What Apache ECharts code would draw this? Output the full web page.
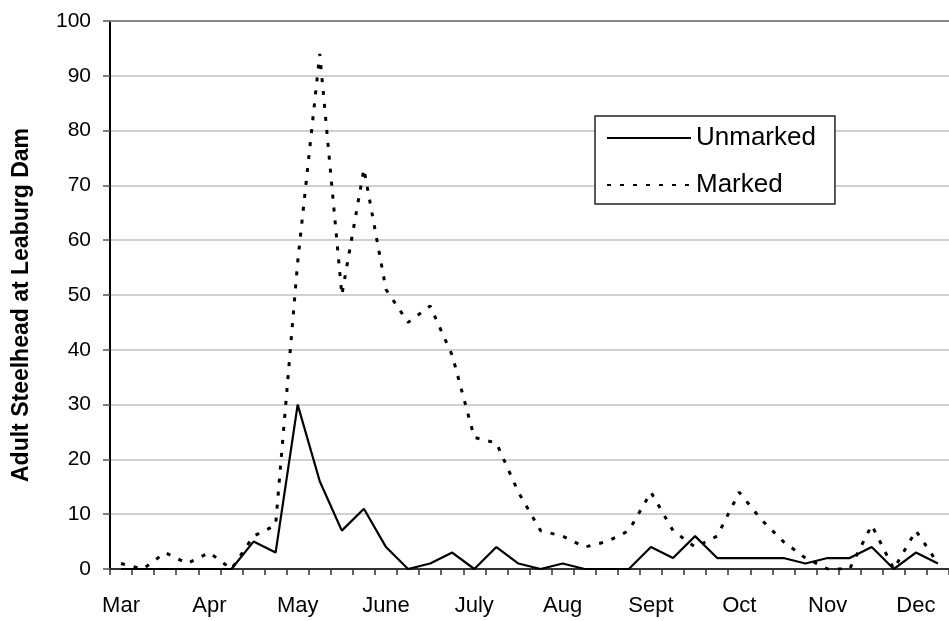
<!DOCTYPE html>
<html>
<head>
<meta charset="utf-8">
<title>Adult Steelhead at Leaburg Dam</title>
<script src="https://cdn.jsdelivr.net/npm/echarts@6/dist/echarts.min.js"></script>
<style>
  html, body { margin: 0; padding: 0; background: #fff; }
  #chart { width: 949px; height: 621px; }
</style>
</head>
<body>
<div id="chart"></div>
<script>
// weekly counts, one slot per week, month name on the first week
var weeks = [
  'Mar', '', '', '',
  'Apr', '', '', '',
  'May', '', '', '',
  'June', '', '', '',
  'July', '', '', '',
  'Aug', '', '', '',
  'Sept', '', '', '',
  'Oct', '', '', '',
  'Nov', '', '', '',
  'Dec', ''
];
var unmarked = [0, 0, 0, 0, 0, 0, 5, 3, 30, 16, 7, 11, 4, 0, 1, 3, 0, 4, 1, 0,
  1, 0, 0, 0, 4, 2, 6, 2, 2, 2, 2, 1, 2, 2, 4, 0, 3, 1];
var marked = [1, 0, 3, 1, 3, 0, 6, 8, 56, 94, 50, 73, 51, 45, 48, 39, 24, 23, 14, 7,
  6, 4, 5, 7, 14, 7, 4, 6, 14, 9, 5, 2, 0, 0, 8, 0, 7, 1];
var yTicks = [0, 10, 20, 30, 40, 50, 60, 70, 80, 90, 100];

var font = 'Liberation Sans, Arial, sans-serif';
var chartDom = document.getElementById('chart');
var myChart = echarts.init(chartDom, null, { renderer: 'canvas' });
var option;

option = {
  animation: false,
  backgroundColor: '#fff',
  grid: { left: 110, top: 21, right: -4, bottom: 52, containLabel: false },
  legend: {
    orient: 'vertical',
    left: 595,
    top: 116,
    width: 239,
    padding: [9, 19, 6, 11],
    itemWidth: 84,
    itemHeight: 14,
    itemGap: 21,
    backgroundColor: '#fff',
    borderColor: '#222',
    borderWidth: 1.5,
    // hide the marker dot, keep only the line sample
    itemStyle: { opacity: 0 },
    data: ['Unmarked', 'Marked'],
    textStyle: { fontFamily: font, fontSize: 26, color: '#000', lineHeight: 26 }
  },
  xAxis: [
    {
      type: 'category',
      data: weeks,
      boundaryGap: true,
      axisLine: { lineStyle: { color: '#333', width: 2 } },
      axisTick: { show: true, interval: 0, length: 6, lineStyle: { color: '#333', width: 1.5 } },
      axisLabel: {
        interval: 3,
        margin: 26,
        fontFamily: font,
        fontSize: 22,
        color: '#000'
      }
    },
    {
      // top frame line of the plot area
      type: 'category',
      position: 'top',
      data: weeks,
      axisLine: { lineStyle: { color: '#888', width: 2 } },
      axisTick: { show: false },
      axisLabel: { show: false }
    }
  ],
  yAxis: {
    type: 'value',
    min: yTicks[0],
    max: yTicks[yTicks.length - 1],
    interval: 10,
    name: 'Adult Steelhead at Leaburg Dam',
    nameLocation: 'middle',
    nameGap: 77,
    nameTextStyle: {
      fontFamily: font,
      fontSize: 23,
      fontWeight: 'bold',
      color: '#000',
      padding: [0, 20, 0, 0]
    },
    axisLine: { show: true, lineStyle: { color: '#000', width: 2 } },
    axisTick: { show: true, length: 7, lineStyle: { color: '#555', width: 1.5 } },
    axisLabel: { margin: 19, fontFamily: font, fontSize: 21, color: '#000' },
    splitLine: { lineStyle: { color: '#c0c0c0', width: 1.5 } }
  },
  series: [
    {
      name: 'Unmarked',
      type: 'line',
      data: unmarked,
      symbol: 'none',
      z: 3,
      lineStyle: { color: '#000', width: 2.2 },
      itemStyle: { color: '#000' }
    },
    {
      name: 'Marked',
      type: 'line',
      data: marked,
      symbol: 'none',
      z: 2,
      lineStyle: { color: '#000', width: 3, type: [4, 9] },
      itemStyle: { color: '#000' }
    }
  ]
};

option && myChart.setOption(option);
</script>
</body>
</html>
